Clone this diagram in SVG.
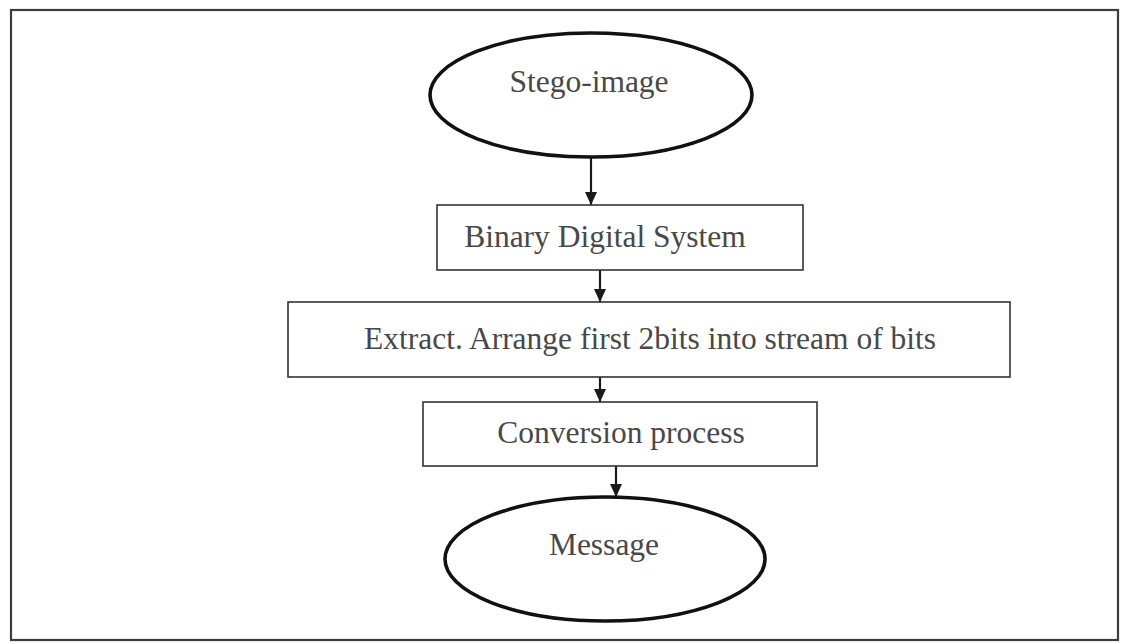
<svg xmlns="http://www.w3.org/2000/svg" width="1123" height="644" viewBox="0 0 1123 644">
  <style>
    .frame { fill: #ffffff; stroke: #3c3c3c; stroke-width: 2.2; }
    .term { fill: #ffffff; stroke: #111111; stroke-width: 3.6; }
    .proc { fill: #ffffff; stroke: #333333; stroke-width: 1.6; }
    .lbl { font-family: "Liberation Serif", "Times New Roman", serif; font-size: 31.5px; fill: #484848; text-anchor: middle; }
    .edge { stroke: #1a1a1a; stroke-width: 2.2; fill: none; marker-end: url(#arrow); }
  </style>
  <defs>
    <marker id="arrow" viewBox="0 0 13 12" refX="13" refY="6" markerWidth="13" markerHeight="12" markerUnits="userSpaceOnUse" orient="auto">
      <path d="M0,0 L13,6 L0,12 Z" fill="#1a1a1a"/>
    </marker>
  </defs>

  <rect x="0" y="0" width="1123" height="644" fill="#ffffff"/>
  <rect class="frame" x="11" y="10" width="1107" height="630"/>

  <g id="connectors">
    <line class="edge" x1="591" y1="157" x2="591" y2="205"/>
    <line class="edge" x1="600" y1="270" x2="600" y2="302"/>
    <line class="edge" x1="600" y1="377" x2="600" y2="402"/>
    <line class="edge" x1="616" y1="466" x2="616" y2="497"/>
  </g>

  <g id="stego-image">
    <ellipse class="term" cx="591" cy="95" rx="161" ry="62"/>
    <text class="lbl" x="589" y="92">Stego-image</text>
  </g>

  <g id="binary-digital-system">
    <rect class="proc" x="437" y="205" width="366" height="65"/>
    <text class="lbl" x="605" y="247">Binary Digital System</text>
  </g>

  <g id="extract-arrange">
    <rect class="proc" x="288" y="302" width="722" height="75"/>
    <text class="lbl" x="650" y="349">Extract. Arrange first 2bits into stream of bits</text>
  </g>

  <g id="conversion-process">
    <rect class="proc" x="423" y="402" width="394" height="64"/>
    <text class="lbl" x="621" y="443">Conversion process</text>
  </g>

  <g id="message">
    <ellipse class="term" cx="605" cy="559" rx="160" ry="62"/>
    <text class="lbl" x="604" y="555">Message</text>
  </g>
</svg>
